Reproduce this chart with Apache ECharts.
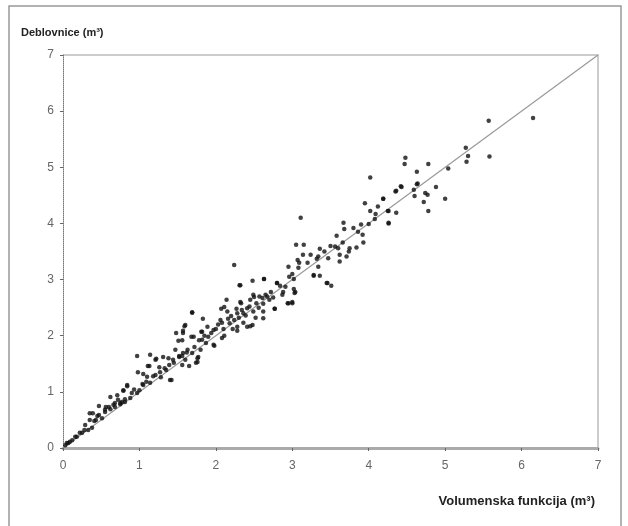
<!DOCTYPE html>
<html>
<head>
    <meta charset="utf-8">
    <title>Deblovnice</title>
    <script src="https://cdn.jsdelivr.net/npm/echarts@6/dist/echarts.min.js"></script>
</head>
<body style="margin:0">
    <div id="main" style="width: 628px;height:526px;"></div>
    <script type="text/javascript">

        var axisTicks = [0, 1, 2, 3, 4, 5, 6, 7];
        // x: volumenska funkcija, y: deblovnice (m3)
        var points = [
            [0.03, 0.05], [0.05, 0.09], [0.07, 0.09], [0.09, 0.11], [0.12, 0.14], [0.16, 0.2],
            [0.18, 0.2], [0.22, 0.27], [0.25, 0.27], [0.28, 0.32], [0.33, 0.32], [0.38, 0.36],
            [0.29, 0.41], [0.35, 0.5], [0.41, 0.48], [0.43, 0.5], [0.47, 0.59], [0.39, 0.62],
            [0.35, 0.62], [0.45, 0.57], [0.51, 0.53], [0.47, 0.75], [0.55, 0.68], [0.55, 0.64],
            [0.6, 0.73], [0.62, 0.69], [0.62, 0.91], [0.68, 0.8], [0.68, 0.73], [0.75, 0.78],
            [0.77, 0.82], [0.81, 0.82], [0.79, 1.03], [0.84, 1.12], [0.88, 0.89], [0.97, 0.98],
            [1.0, 1.03], [1.05, 1.12], [1.14, 1.16], [1.1, 1.27], [0.98, 1.35], [1.11, 1.46],
            [1.22, 1.59], [1.27, 1.35], [1.35, 1.39], [1.4, 1.21], [1.38, 1.6], [1.47, 1.75],
            [1.52, 1.64], [1.57, 1.69], [1.56, 1.48], [0.97, 1.64], [0.56, 0.73], [0.66, 0.77],
            [0.75, 0.8], [0.81, 0.87], [0.71, 0.94], [0.9, 0.98], [0.79, 1.02], [0.84, 1.1],
            [1.04, 1.14], [1.09, 1.18], [1.28, 1.26], [1.21, 1.3], [1.05, 1.32], [1.13, 1.46],
            [1.21, 1.57], [1.26, 1.44], [1.42, 1.21], [1.39, 1.48], [1.44, 1.57], [1.52, 1.62],
            [1.65, 1.46], [1.6, 1.57], [1.77, 1.62], [1.69, 1.69], [1.76, 1.53], [1.8, 1.75],
            [1.87, 1.87], [1.98, 1.82], [2.11, 2.0], [2.08, 2.23], [2.28, 2.16], [2.48, 2.19],
            [2.49, 2.43], [2.5, 2.69], [2.41, 2.49], [2.32, 2.6], [2.28, 2.4], [2.07, 2.48],
            [2.11, 2.51], [2.14, 2.64], [1.83, 2.3], [1.82, 2.07], [1.68, 1.98], [1.56, 1.92],
            [1.51, 1.91], [1.6, 2.19], [1.57, 2.09], [1.48, 2.05], [1.69, 2.41], [2.31, 2.9],
            [2.36, 2.23], [2.41, 2.16], [1.31, 1.62], [1.14, 1.66],
            [2.24, 3.26], [2.32, 2.9], [2.48, 2.98], [2.63, 3.01], [1.69, 2.42], [2.33, 2.58],
            [2.45, 2.64], [2.49, 2.73], [2.57, 2.7], [2.62, 2.57], [2.15, 2.43], [2.27, 2.48],
            [2.36, 2.4], [2.62, 2.43], [2.62, 2.31], [2.77, 2.48], [2.06, 2.28], [2.18, 2.22],
            [2.45, 2.17], [1.89, 2.16], [1.97, 2.1], [1.81, 2.07], [1.59, 2.17], [1.57, 2.05],
            [1.71, 1.98], [1.82, 1.93], [2.08, 1.96], [1.97, 1.84], [1.74, 1.52], [1.76, 1.6],
            [1.63, 1.75], [1.56, 1.64], [2.28, 2.09], [2.1, 2.12], [3.28, 3.08], [3.45, 2.94],
            [2.8, 2.94], [3.0, 2.6], [2.94, 2.58], [3.04, 2.78],
            [3.11, 4.1], [3.95, 4.36], [4.19, 4.44], [4.35, 4.57], [4.42, 4.66], [4.59, 4.6],
            [4.64, 4.71], [4.6, 4.49], [4.02, 4.22], [4.09, 4.17], [4.26, 4.22], [4.36, 4.19],
            [4.26, 4.01], [4.0, 3.99], [4.08, 4.08], [3.67, 4.01], [3.68, 3.9], [3.8, 3.92],
            [3.9, 3.98], [3.92, 3.8], [3.93, 3.66], [3.84, 3.57], [3.66, 3.66], [3.58, 3.78],
            [3.56, 3.59], [3.6, 3.56], [3.75, 3.56], [3.74, 3.5], [3.62, 3.44], [3.71, 3.41],
            [3.62, 3.32], [3.47, 3.38], [3.36, 3.55], [3.34, 3.41], [3.24, 3.44], [3.14, 3.44],
            [3.05, 3.62], [3.15, 3.62], [3.07, 3.35], [3.09, 3.3], [3.08, 3.21], [3.32, 3.37],
            [3.34, 3.23], [3.36, 3.07], [3.28, 3.07], [2.95, 3.23], [2.96, 3.05], [3.02, 3.01],
            [3.0, 3.1], [2.8, 2.94], [2.84, 2.89], [2.91, 2.87], [2.88, 2.78], [2.87, 2.73],
            [3.02, 2.83], [3.03, 2.76], [2.95, 2.58], [3.0, 2.58], [2.77, 2.48], [2.63, 3.01],
            [2.65, 2.73], [2.61, 2.67], [2.7, 2.64], [3.46, 2.94], [3.51, 2.89],
            [4.48, 5.17], [4.47, 5.06], [4.78, 5.06], [4.63, 4.92], [4.63, 4.7], [4.88, 4.65],
            [4.43, 4.65], [4.36, 4.58], [4.74, 4.54], [4.77, 4.51], [5.0, 4.44], [4.19, 4.44],
            [4.25, 4.22], [4.78, 4.22], [4.26, 4.0], [4.02, 4.82], [4.72, 4.38],
            [5.04, 4.98], [5.27, 5.35], [5.3, 5.2], [5.28, 5.1], [5.58, 5.19], [5.57, 5.83],
            [6.15, 5.88],
            // dense band along the line
            [1.62, 1.7], [1.72, 1.8], [1.78, 1.92], [1.9, 1.98], [1.94, 2.05], [2.0, 2.12],
            [2.03, 2.2], [2.16, 2.3], [2.2, 2.35], [2.24, 2.28], [2.3, 2.32], [2.34, 2.46],
            [2.39, 2.36], [2.44, 2.52], [2.53, 2.58], [2.56, 2.5], [2.67, 2.7], [2.72, 2.78],
            [2.75, 2.68], [1.45, 1.52], [1.33, 1.42], [1.18, 1.28], [0.93, 1.04], [0.72, 0.86],
            [1.85, 2.0], [2.22, 2.12], [2.52, 2.32], [3.2, 3.3], [3.42, 3.5], [3.5, 3.6],
            [3.86, 3.85], [4.12, 4.3]
        ];
        var diagonal = [[0, 0], [7, 7]];

        var myChart = echarts.init(document.getElementById('main'));
        var fontFam = 'Liberation Sans, Arial, sans-serif';

        var option = {
            animation: false,
            backgroundColor: '#fff',
            grid: { left: 63, right: 30, top: 55, bottom: 78 },
            title: [
                {
                    text: 'Deblovnice (m³)', left: 16, top: 22,
                    textStyle: { fontSize: 11, fontWeight: 'bold', color: '#222', fontFamily: fontFam }
                },
                {
                    text: 'Volumenska funkcija (m³)', right: 28, top: 490,
                    textStyle: { fontSize: 13, fontWeight: 'bold', color: '#222', fontFamily: fontFam }
                }
            ],
            xAxis: {
                type: 'value', min: 0, max: 7, interval: 1,
                axisLine: { lineStyle: { color: '#aaa', width: 3 } },
                axisTick: { length: 3, lineStyle: { color: '#666' } },
                axisLabel: {
                    color: '#666', fontSize: 12, margin: 12, fontFamily: fontFam,
                    formatter: function (v) { return axisTicks.indexOf(v) >= 0 ? String(v) : ''; }
                },
                splitLine: { show: false }
            },
            yAxis: {
                type: 'value', min: 0, max: 7, interval: 1,
                axisLine: { show: true, lineStyle: { color: '#777', width: 1, type: 'dotted' } },
                axisTick: { show: true, length: 3, lineStyle: { color: '#666' } },
                axisLabel: { color: '#666', fontSize: 12, margin: 9, fontFamily: fontFam },
                splitLine: { show: false }
            },
            graphic: [
                {
                    type: 'rect', silent: true,
                    shape: { x: 9, y: 6, width: 612, height: 560 },
                    style: { fill: 'none', stroke: '#999', lineWidth: 1.5 }
                },
                {
                    type: 'polyline', silent: true,
                    shape: { points: [[63, 55], [598, 55], [598, 448]] },
                    style: { fill: 'none', stroke: '#ccc', lineWidth: 2 }
                }
            ],
            series: [
                {
                    type: 'line',
                    data: diagonal,
                    showSymbol: false,
                    lineStyle: { color: '#999', width: 1.2 },
                    z: 2
                },
                {
                    type: 'scatter',
                    data: points,
                    symbolSize: 4.5,
                    itemStyle: { color: '#111' },
                    z: 3
                }
            ]
        };

        myChart.setOption(option);
    </script>
</body>
</html>
